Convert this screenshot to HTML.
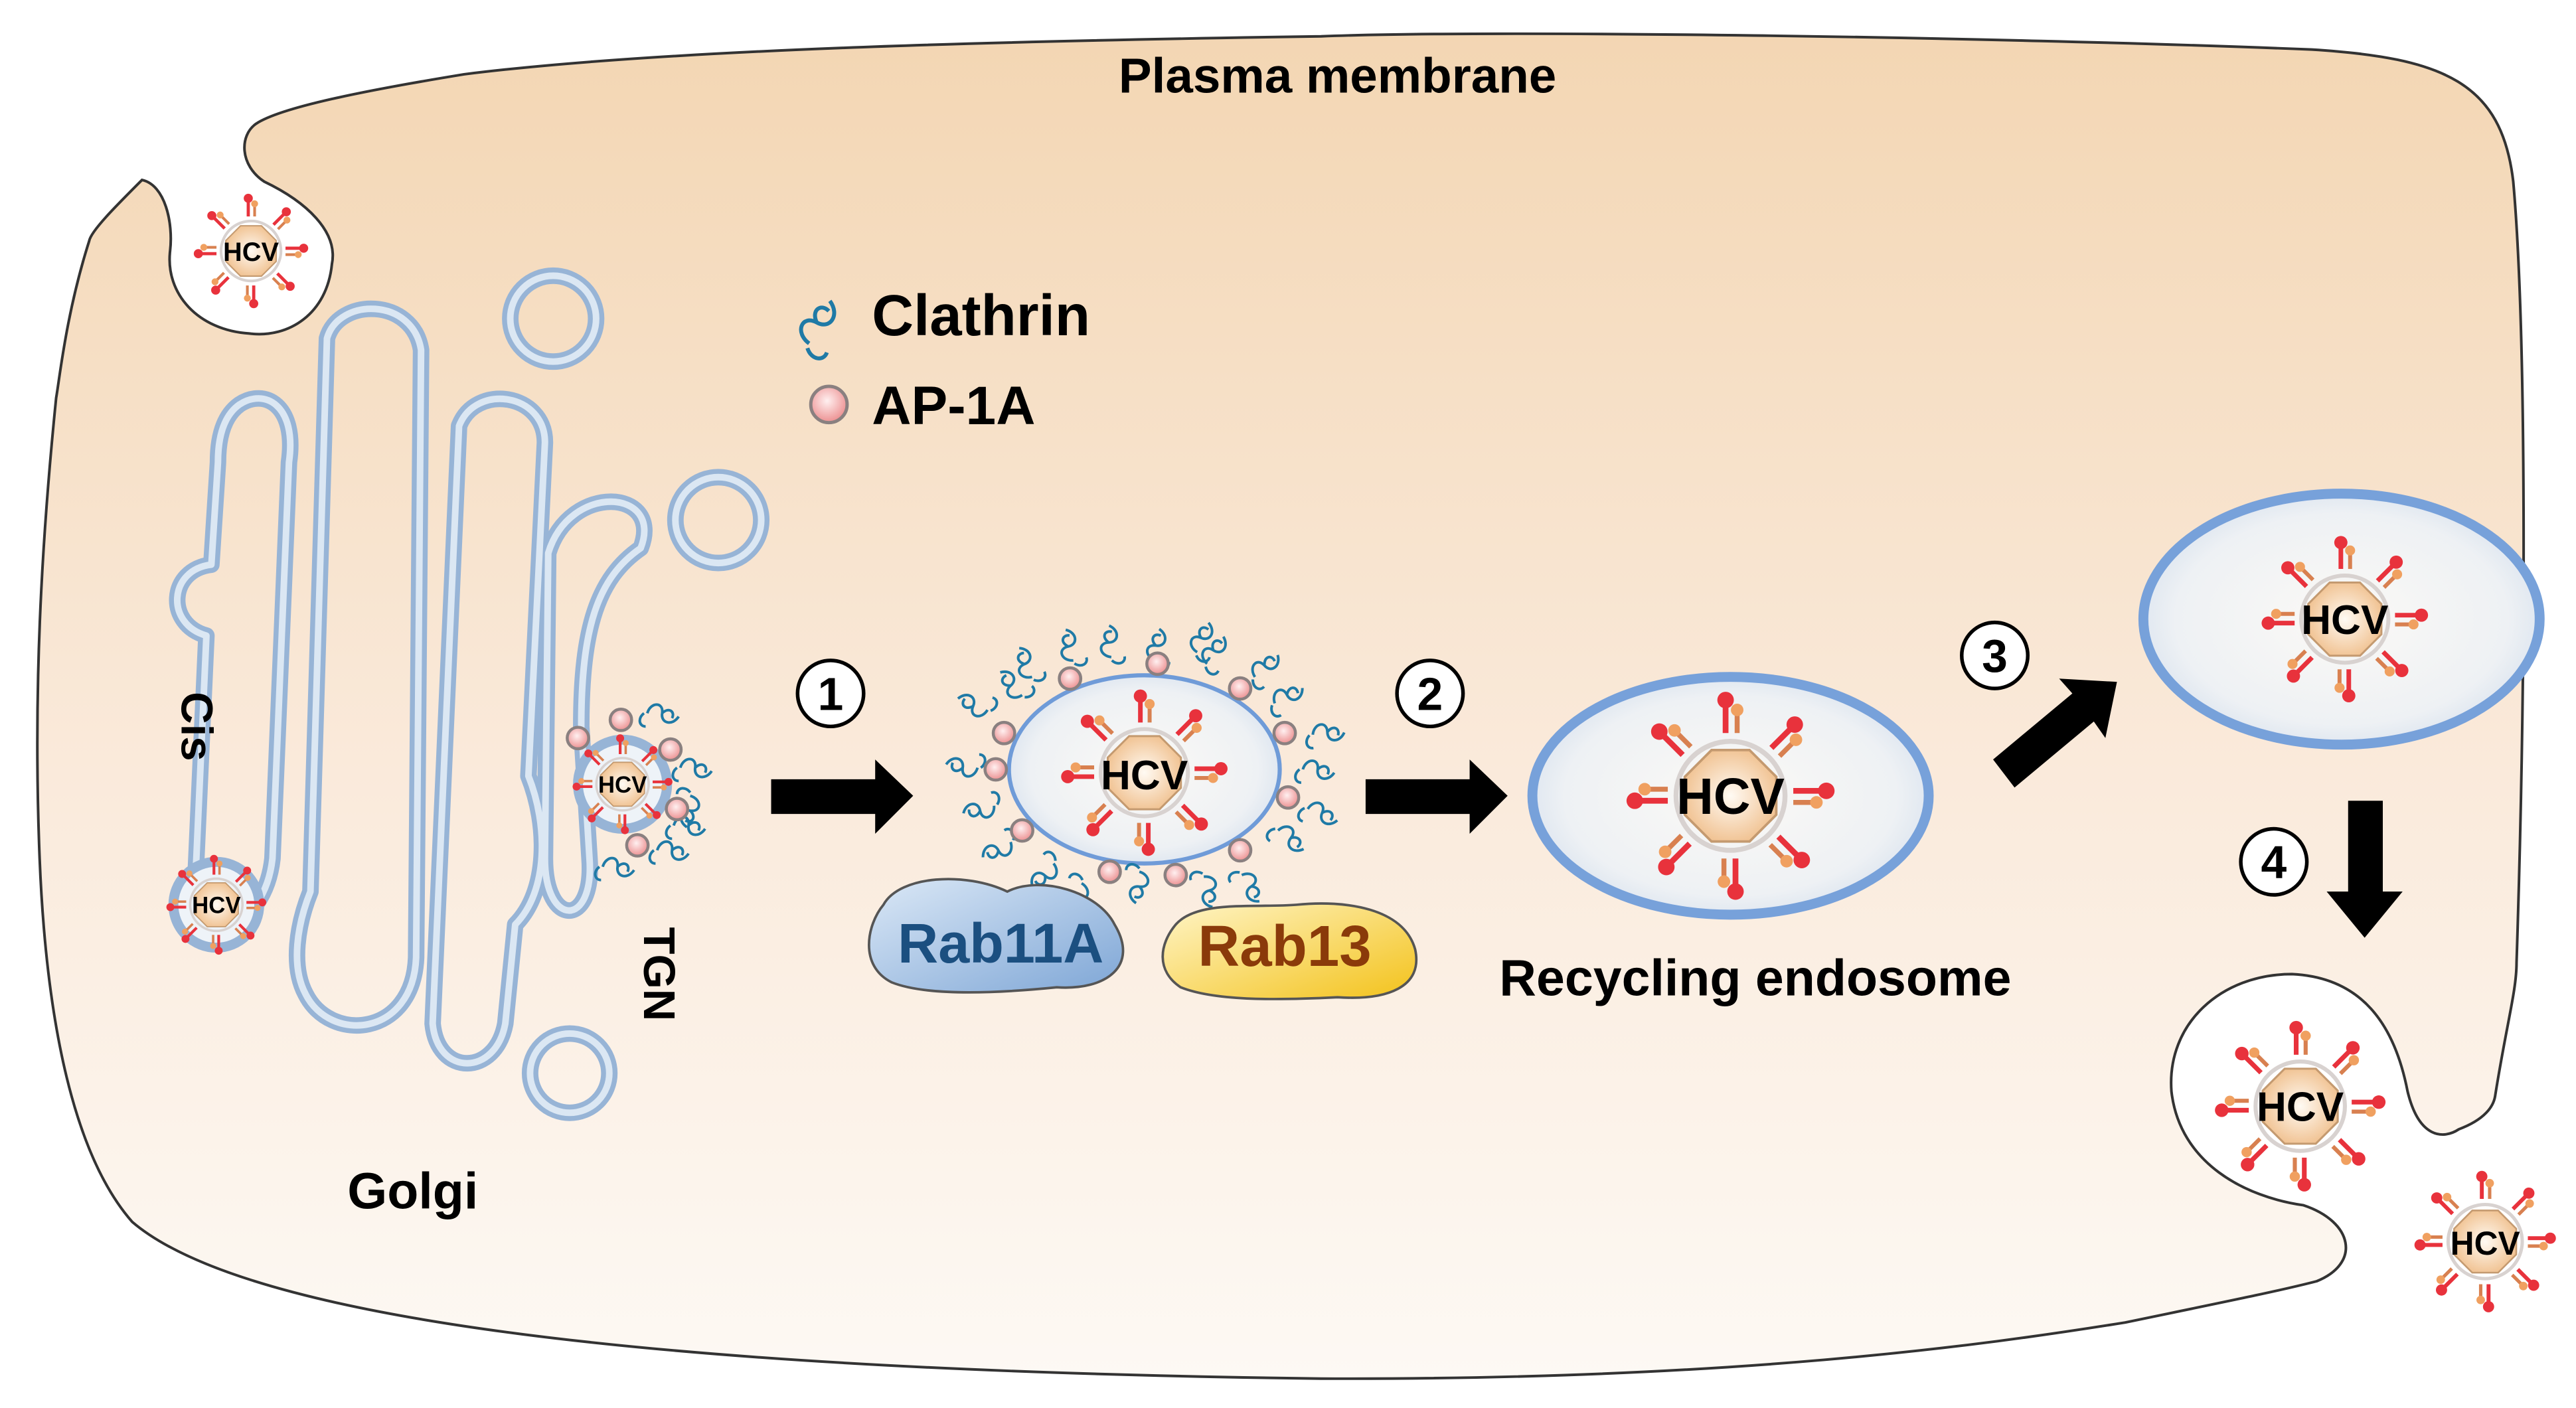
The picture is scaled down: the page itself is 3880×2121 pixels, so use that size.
<!DOCTYPE html>
<html><head><meta charset="utf-8">
<style>html,body{margin:0;padding:0;background:#fff;}svg{display:block}</style></head>
<body>
<svg width="3880" height="2121" viewBox="0 0 1560 852.8" preserveAspectRatio="none" xmlns="http://www.w3.org/2000/svg" font-family="'Liberation Sans', sans-serif">
<defs>
<linearGradient id="cell" x1="0" y1="0" x2="0" y2="1">
<stop offset="0" stop-color="#f3d6b3"/><stop offset="0.55" stop-color="#faeadb"/><stop offset="1" stop-color="#fdf9f4"/></linearGradient>
<radialGradient id="oct" cx="0.5" cy="0.5" r="0.55"><stop offset="0" stop-color="#fffaf3"/><stop offset="1" stop-color="#f0c08e"/></radialGradient>
<radialGradient id="endo" cx="0.5" cy="0.5" r="0.6"><stop offset="0" stop-color="#fbf9f6"/><stop offset="0.7" stop-color="#eef1f4"/><stop offset="1" stop-color="#cfdced"/></radialGradient>
<radialGradient id="ball" cx="0.45" cy="0.4" r="0.6"><stop offset="0" stop-color="#fff0f0"/><stop offset="1" stop-color="#ec8f90"/></radialGradient>
<linearGradient id="r11" x1="0" y1="0" x2="1" y2="1"><stop offset="0" stop-color="#dbe8f6"/><stop offset="1" stop-color="#7ea6d6"/></linearGradient>
<linearGradient id="r13" x1="0" y1="0" x2="1" y2="1"><stop offset="0" stop-color="#fff5c8"/><stop offset="1" stop-color="#f3c21a"/></linearGradient>
<g id="spike">
<line x1="-3" y1="-38" x2="-3" y2="-56" stroke="#e8323c" stroke-width="3.5"/>
<circle cx="-3" cy="-58" r="5" fill="#e8323c"/>
<line x1="4" y1="-38" x2="4" y2="-51" stroke="#d88050" stroke-width="3"/>
<circle cx="4" cy="-52" r="3.8" fill="#f0a060"/>
</g>
<g id="vir">
<circle r="33" fill="none" stroke="#d8d2d0" stroke-width="3"/>
<polygon points="11.5,-27.7 27.7,-11.5 27.7,11.5 11.5,27.7 -11.5,27.7 -27.7,11.5 -27.7,-11.5 -11.5,-27.7" fill="url(#oct)" stroke="#c49a70" stroke-width="1.5"/>
<use href="#spike"/><use href="#spike" transform="rotate(45)"/><use href="#spike" transform="rotate(90)"/><use href="#spike" transform="rotate(135)"/>
<use href="#spike" transform="rotate(180)"/><use href="#spike" transform="rotate(225)"/><use href="#spike" transform="rotate(270)"/><use href="#spike" transform="rotate(315)"/>
</g>
<path id="sq" d="M0,0 c2,-7 10,-7 9,0 c-1,6 6,8 10,2 M9,0 c4,-4 8,-1 6,3 M-2,0 c-4,3 -3,8 1,8" fill="none" stroke="#1f7aa6" stroke-width="1.6"/>
<circle id="ap" r="6.5" fill="url(#ball)" stroke="#8a8080" stroke-width="1.8"/>
</defs>

<!-- cell -->
<path d="M86,109 C70,125 55,140 54,146 C40,190 36,230 34,241 C25,330 20,420 24,520 C28,620 45,700 80,740 C150,800 400,830 800,835 C1050,836 1200,815 1287,801 C1340,790 1380,782 1403,776 C1430,765 1425,740 1395,730 C1360,725 1320,705 1315,661 C1312,620 1345,590 1388,590 C1430,592 1450,620 1458,661 C1465,690 1480,690 1489,684 C1505,678 1510,670 1511,664 C1518,620 1524,600 1524,583 C1530,400 1530,200 1522,110 C1515,50 1480,35 1400,30 C1200,22 900,18 800,22 C600,25 400,30 281,45 C220,55 170,65 155,75 C145,82 145,100 160,110 C185,122 205,140 201,160 C198,190 175,205 151,202 C120,200 100,178 103,152 C105,135 100,112 86,109 Z" fill="url(#cell)" stroke="#333" stroke-width="1.6"/>

<!-- Golgi -->
<g fill="none" stroke-linejoin="round">
<g stroke="#97b4d6" stroke-width="10">
<path d="M145,245 C160,235 180,245 175,280 L165,520 C160,565 118,575 118,540 L125,385 C100,378 102,345 128,342 L132,280 C132,260 138,250 145,245 Z"/>
<path d="M198,205 C205,180 250,180 255,212 L252,580 C250,628 200,632 185,602 C176,585 180,560 188,540 Z"/>
<path d="M278,258 C288,232 330,238 330,268 L320,470 C332,500 332,540 312,560 L306,620 C300,652 265,652 262,620 Z"/>
<path d="M332,335 C345,292 402,296 388,332 C362,350 352,380 352,440 L357,520 C360,562 330,562 330,520 Z"/>
<circle cx="335" cy="193" r="26"/><circle cx="435" cy="315" r="26"/><circle cx="345" cy="650" r="24"/>
</g>
<g stroke="#dbe7f3" stroke-width="4">
<path d="M145,245 C160,235 180,245 175,280 L165,520 C160,565 118,575 118,540 L125,385 C100,378 102,345 128,342 L132,280 C132,260 138,250 145,245 Z"/>
<path d="M198,205 C205,180 250,180 255,212 L252,580 C250,628 200,632 185,602 C176,585 180,560 188,540 Z"/>
<path d="M278,258 C288,232 330,238 330,268 L320,470 C332,500 332,540 312,560 L306,620 C300,652 265,652 262,620 Z"/>
<path d="M332,335 C345,292 402,296 388,332 C362,350 352,380 352,440 L357,520 C360,562 330,562 330,520 Z"/>
<circle cx="335" cy="193" r="26"/><circle cx="435" cy="315" r="26"/><circle cx="345" cy="650" r="24"/>
</g>
</g>

<circle cx="131" cy="548" r="26" fill="#eef3f8" stroke="#97b4d6" stroke-width="6"/>
<circle cx="377" cy="475" r="27" fill="#eef3f8" stroke="#97b4d6" stroke-width="6"/>
<use href="#sq" x="392" y="432"/><use href="#sq" x="412" y="465"/><use href="#sq" x="398" y="515"/><use href="#sq" x="365" y="525"/><use href="#sq" x="408" y="500"/><use href="#sq" transform="translate(418,482) rotate(90)"/>
<use href="#ap" x="376" y="436"/><use href="#ap" x="406" y="454"/><use href="#ap" x="410" y="490"/><use href="#ap" x="386" y="512"/><use href="#ap" x="350" y="447"/>

<g transform="translate(152,152) scale(0.55)"><use href="#vir"/></g>
<text x="152" y="158" font-size="16" font-weight="bold" text-anchor="middle">HCV</text>
<g transform="translate(131,548) scale(0.48)"><use href="#vir"/></g>
<text x="131" y="553" font-size="14" font-weight="bold" text-anchor="middle">HCV</text>
<g transform="translate(377,475) scale(0.48)"><use href="#vir"/></g>
<text x="377" y="480" font-size="14" font-weight="bold" text-anchor="middle">HCV</text>

<!-- clathrin vesicle -->
<ellipse cx="693" cy="466" rx="82" ry="57" fill="url(#endo)" stroke="#6f9bd8" stroke-width="2.5"/>
<g>
<use href="#sq" transform="translate(619,421) rotate(-140)"/><use href="#sq" transform="translate(673,398) rotate(-100)"/>
<use href="#sq" transform="translate(731,402) rotate(-65)"/><use href="#sq" transform="translate(772,426) rotate(-35)"/>
<use href="#sq" transform="translate(789,466)"/><use href="#sq" transform="translate(774,503) rotate(30)"/>
<use href="#sq" transform="translate(729,531) rotate(68)"/><use href="#sq" transform="translate(638,523) rotate(125)"/>
<use href="#sq" transform="translate(602,488) rotate(160)"/><use href="#sq" transform="translate(598,430) rotate(-165)"/>
<use href="#sq" transform="translate(690,528) rotate(90)"/><use href="#sq" transform="translate(700,400) rotate(-90)"/>
<use href="#sq" transform="translate(625,410) rotate(-120)"/><use href="#sq" transform="translate(760,410) rotate(-50)"/>
<use href="#sq" transform="translate(792,490) rotate(15)"/><use href="#sq" transform="translate(795,445) rotate(-10)"/>
<use href="#sq" transform="translate(752,530) rotate(50)"/><use href="#sq" transform="translate(655,535) rotate(105)"/>
<use href="#sq" transform="translate(612,510) rotate(145)"/><use href="#sq" transform="translate(592,465) rotate(180)"/>
<use href="#sq" transform="translate(650,400) rotate(-110)"/><use href="#sq" transform="translate(725,395) rotate(-75)"/>
<use href="#ap" x="608" y="444"/><use href="#ap" x="648" y="411"/><use href="#ap" x="701" y="402"/><use href="#ap" x="751" y="417"/>
<use href="#ap" x="778" y="444"/><use href="#ap" x="780" y="483"/><use href="#ap" x="751" y="515"/><use href="#ap" x="712" y="530"/>
<use href="#ap" x="672" y="528"/><use href="#ap" x="619" y="503"/><use href="#ap" x="603" y="466"/>
</g>
<g transform="translate(693,468) scale(0.8)"><use href="#vir"/></g>
<text x="693" y="478" font-size="25" font-weight="bold" text-anchor="middle">HCV</text>

<!-- Rab blobs -->
<path d="M535,548 C545,530 585,528 610,540 C630,530 665,540 675,560 C690,585 670,600 640,598 C600,602 560,603 540,595 C520,585 525,560 535,548 Z" fill="url(#r11)" stroke="#555" stroke-width="1.5"/>
<text x="606" y="583" font-size="34" font-weight="bold" fill="#1b4f80" text-anchor="middle">Rab11A</text>
<path d="M712,560 C725,545 760,550 785,548 C815,545 850,550 857,575 C862,598 840,606 810,604 C770,606 735,606 715,598 C700,588 702,572 712,560 Z" fill="url(#r13)" stroke="#555" stroke-width="1.5"/>
<text x="778" y="585" font-size="35" font-weight="bold" fill="#8a3a0a" text-anchor="middle">Rab13</text>

<!-- recycling endosome -->
<ellipse cx="1048" cy="482" rx="120" ry="72" fill="url(#endo)" stroke="#77a1da" stroke-width="6"/>
<g transform="translate(1048,482)"><use href="#vir"/></g>
<text x="1048" y="493" font-size="31" font-weight="bold" text-anchor="middle">HCV</text>
<text x="1063" y="603" font-size="31" font-weight="bold" text-anchor="middle">Recycling endosome</text>

<!-- upper right endosome -->
<ellipse cx="1418" cy="375" rx="120" ry="76" fill="url(#endo)" stroke="#77a1da" stroke-width="6"/>
<g transform="translate(1420,375) scale(0.8)"><use href="#vir"/></g>
<text x="1420" y="384" font-size="25" font-weight="bold" text-anchor="middle">HCV</text>

<!-- exit -->
<g transform="translate(1393,670) scale(0.82)"><use href="#vir"/></g>
<text x="1393" y="679" font-size="25" font-weight="bold" text-anchor="middle">HCV</text>
<g transform="translate(1505,752) scale(0.68)"><use href="#vir"/></g>
<text x="1505" y="760" font-size="20" font-weight="bold" text-anchor="middle">HCV</text>

<!-- arrows -->
<polygon points="467,472 530,472 530,460 553,482 530,505 530,493 467,493" fill="#000"/>
<polygon points="827,472 890,472 890,460 913,482 890,505 890,493 827,493" fill="#000"/>
<polygon points="1207,460 1255,420 1247,411 1282,413 1275,447 1268,437 1220,477" fill="#000"/>
<polygon points="1422,485 1443,485 1443,540 1455,540 1432,568 1409,540 1422,540" fill="#000"/>

<g fill="#fff" stroke="#000" stroke-width="2.2">
<circle cx="503" cy="420" r="20"/><circle cx="866" cy="420" r="20"/><circle cx="1208" cy="397" r="20"/><circle cx="1377" cy="522" r="20"/>
</g>
<g font-size="28" font-weight="bold" text-anchor="middle">
<text x="503" y="430">1</text><text x="866" y="430">2</text><text x="1208" y="407">3</text><text x="1377" y="532">4</text>
</g>

<!-- labels -->
<text x="810" y="56" font-size="30" font-weight="bold" text-anchor="middle">Plasma membrane</text>
<use href="#sq" transform="translate(490,208) rotate(-70) scale(1.5)"/>
<text x="528" y="203" font-size="35" font-weight="bold">Clathrin</text>
<circle cx="502" cy="245" r="11" fill="url(#ball)" stroke="#8a8080" stroke-width="2"/>
<text x="528" y="257" font-size="33" font-weight="bold">AP-1A</text>
<text transform="translate(110,440) rotate(90)" font-size="27" font-weight="bold" text-anchor="middle">Cis</text>
<text transform="translate(390,590) rotate(90)" font-size="27" font-weight="bold" text-anchor="middle">TGN</text>
<text x="250" y="732" font-size="31" font-weight="bold" text-anchor="middle">Golgi</text>
</svg>
</body></html>
